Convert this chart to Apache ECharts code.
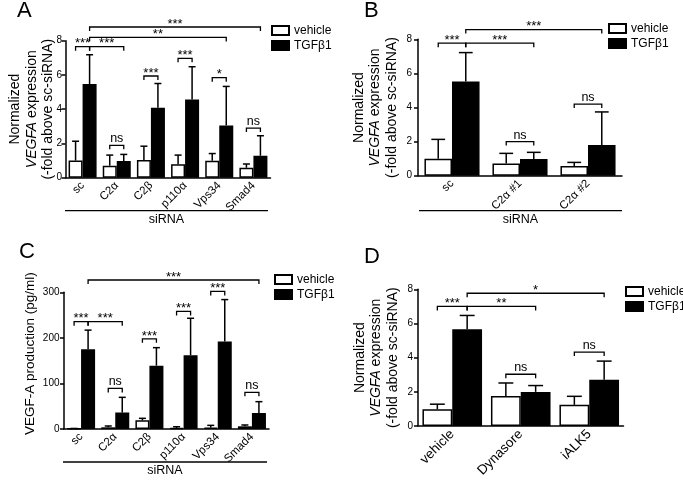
<!DOCTYPE html>
<html><head><meta charset="utf-8">
<script src="https://cdn.jsdelivr.net/npm/echarts@6/dist/echarts.min.js"></script>
<style>html,body{margin:0;padding:0;background:#fff}#c{width:683px;height:480px}</style>
</head><body><div id="c"></div>
<script>
const FONT = '"Liberation Sans", Arial, Helvetica, sans-serif';

const catsA = ['sc','C2α','C2β','p110α','Vps34','Smad4'];
const vehA = [1.00,0.70,1.03,0.78,0.99,0.58];
const vehErrA = [2.13,1.32,1.84,1.32,1.41,0.80];
const tgfA = [5.47,0.97,4.09,4.57,3.05,1.28];
const tgfErrA = [7.18,1.36,5.50,6.48,5.33,2.45];
const sigA = [[0,0,0,1,7.65,'***'],[0,1,1,1,7.65,'***'],[0,1,4,1,8.19,'**'],[0,1,5,1,8.8,'***'],[1,0,1,1,1.89,'ns'],[2,0,2,1,5.94,'***'],[3,0,3,1,6.97,'***'],[4,0,4,1,5.84,'*'],[5,0,5,1,2.9,'ns']];

const catsB = ['sc','C2α #1','C2α #2'];
const vehB = [1.00,0.72,0.57];
const vehErrB = [2.13,1.31,0.78];
const tgfB = [5.52,0.98,1.80];
const tgfErrB = [7.22,1.37,3.74];
const sigB = [[0,0,0,1,7.77,'***'],[0,1,1,1,7.77,'***'],[0,1,2,1,8.57,'***'],[1,0,1,1,2.0,'ns'],[2,0,2,1,4.2,'ns']];

const catsC = ['sc','C2α','C2β','p110α','Vps34','Smad4'];
const vehC = [0.8,3.7,19,2.2,3,5.9];
const vehErrC = [1.2,6.6,23.4,5,8,8.8];
const tgfC = [175,36,139,162,192,35];
const tgfErrC = [217,69.5,178.5,243,284,60];
const sigC = [[0,0,0,1,235.5,'***'],[0,1,1,1,235.5,'***'],[0,1,5,1,327,'***'],[1,0,1,1,89,'ns'],[2,0,2,1,198,'***'],[3,0,3,1,258,'***'],[4,0,4,1,302,'***'],[5,0,5,1,80.5,'ns']];

const catsD = ['vehicle','Dynasore','iALK5'];
const vehD = [0.99,1.76,1.24];
const vehErrD = [1.28,2.52,1.74];
const tgfD = [5.67,2.00,2.71];
const tgfErrD = [6.47,2.37,3.80];
const sigD = [[0,0,0,1,7.0,'***'],[0,1,1,1,7.0,'**'],[0,1,2,1,7.77,'*'],[1,0,1,1,3.03,'ns'],[2,0,2,1,4.33,'ns']];

const yTitleNorm = 'Normalized\n{i|VEGFA} expression\n(-fold above sc-siRNA)';
const yTitleC = 'VEGF-A production (pg/ml)';

const panels = [
  {cats:catsA, veh:vehA, vehE:vehErrA, tgf:tgfA, tgfE:tgfErrA, sig:sigA, max:8, interval:2, gap:0.18,
   grid:{left:65.5, top:40.7, width:205, height:137}, name:yTitleNorm, nameGap:9, nameSize:14, namePad:0, xFont:11.5, yMargin:3.5,
   legend:{left:271, top:24.5}},
  {cats:catsB, veh:vehB, vehE:vehErrB, tgf:tgfB, tgfE:tgfErrB, sig:sigB, max:8, interval:2, gap:0.19,
   grid:{left:418, top:39.3, width:204, height:136.4}, name:yTitleNorm, nameGap:18, nameSize:14, namePad:0, xFont:11.5, yMargin:6,
   legend:{left:608, top:22.5}},
  {cats:catsC, veh:vehC, vehE:vehErrC, tgf:tgfC, tgfE:tgfErrC, sig:sigC, max:300, interval:100, gap:0.18,
   grid:{left:64, top:292.3, width:205, height:136.7}, name:yTitleC, nameGap:25, nameSize:13.5, namePad:14, xFont:11.5, yMargin:4.5,
   legend:{left:274, top:273.5}},
  {cats:catsD, veh:vehD, vehE:vehErrD, tgf:tgfD, tgfE:tgfErrD, sig:sigD, max:8, interval:2, gap:0.13,
   grid:{left:418, top:289.3, width:205.5, height:139.7}, name:yTitleNorm, nameGap:17, nameSize:14, namePad:0, xFont:13.5, yMargin:5,
   legend:{left:625, top:285.5}}
];

function errSeries(pi, side, vals, errs, gap){
  return {type:'custom', name: side<0?'vehicle':'TGFβ1', xAxisIndex:pi, yAxisIndex:pi, z:3, silent:true, clip:false,
    data: vals.map((v,i)=>[i,v,errs[i]]),
    renderItem:(params, api)=>{
      const band = api.size([1,0])[0];
      const bw = band*(1-gap)/2;
      const p0 = api.coord([api.value(0), api.value(1)]);
      const p1 = api.coord([api.value(0), api.value(2)]);
      const x = p0[0] + side*bw/2;
      const st = {stroke:'#000', lineWidth:1.5, fill:null};
      return {type:'group', children:[
        {type:'line', shape:{x1:x,y1:p0[1],x2:x,y2:p1[1]}, style:st},
        {type:'line', shape:{x1:x-bw/4,y1:p1[1],x2:x+bw/4,y2:p1[1]}, style:st}
      ]};
    }
  };
}

function sigSeries(pi, sig, gap){
  return {type:'custom', xAxisIndex:pi, yAxisIndex:pi, z:4, silent:true, clip:false,
    data: sig.map(s=>[s[0], s[4]]),
    renderItem:(params, api)=>{
      const s = sig[params.dataIndex];
      const band = api.size([1,0])[0];
      const bw = band*(1-gap)/2;
      const pa = api.coord([s[0], s[4]]);
      const pb = api.coord([s[2], s[4]]);
      const xa = pa[0] + (s[1]?1:-1)*bw/2;
      const xb = pb[0] + (s[3]?1:-1)*bw/2;
      const y = pa[1];
      const isNs = s[5]==='ns';
      return {type:'group', children:[
        {type:'polyline', shape:{points:[[xa,y+4],[xa,y],[xb,y],[xb,y+4]]}, style:{stroke:'#000', lineWidth:1.3, fill:null}},
        {type:'text', x:(xa+xb)/2, y: y - (isNs?6.5:2.8),
          style:{text:s[5], align:'center', verticalAlign:'middle', fill:'#000',
            font:(isNs?'12.5px ':'13px ')+FONT}}
      ]};
    }
  };
}

const option = {
  animation:false,
  backgroundColor:'#fff',
  textStyle:{fontFamily:FONT},
  grid:[], xAxis:[], yAxis:[], series:[], legend:[],
  graphic:[]
};

panels.forEach((p, pi)=>{
  option.grid.push(Object.assign({containLabel:false}, p.grid));
  option.xAxis.push({type:'category', gridIndex:pi, data:p.cats,
    axisLine:{lineStyle:{color:'#000', width:1.5}}, axisTick:{show:false},
    axisLabel:{rotate:45, interval:0, color:'#000', fontSize:p.xFont, fontFamily:FONT, margin:6},
    splitLine:{show:false}});
  option.yAxis.push({type:'value', gridIndex:pi, min:0, max:p.max, interval:p.interval,
    axisLine:{show:true, lineStyle:{color:'#000', width:1.5}},
    axisTick:{show:true, length:4, lineStyle:{color:'#000', width:1.5}},
    axisLabel:{color:'#000', fontSize:10, fontFamily:FONT, margin:p.yMargin, hideOverlap:false},
    splitLine:{show:false},
    name:p.name, nameLocation:'middle', nameGap:p.nameGap, nameMoveOverlap:false,
    nameTextStyle:{color:'#000', fontSize:p.nameSize, fontFamily:FONT, lineHeight:16.5, padding:[0,0,0,p.namePad],
      rich:{i:{fontStyle:'italic', fontSize:p.nameSize, fontFamily:FONT, color:'#000', lineHeight:16.5}}}});
  option.series.push({type:'bar', name:'vehicle', xAxisIndex:pi, yAxisIndex:pi, data:p.veh,
    barGap:'0%', barCategoryGap:(p.gap*100)+'%',
    itemStyle:{color:'#fff', borderColor:'#000', borderWidth:1.5}});
  option.series.push({type:'bar', name:'TGFβ1', xAxisIndex:pi, yAxisIndex:pi, data:p.tgf,
    barGap:'0%', barCategoryGap:(p.gap*100)+'%',
    itemStyle:{color:'#000', borderColor:'#000', borderWidth:1.5}});
  option.series.push(errSeries(pi, -1, p.veh, p.vehE, p.gap));
  option.series.push(errSeries(pi, 1, p.tgf, p.tgfE, p.gap));
  option.series.push(sigSeries(pi, p.sig, p.gap));
  option.legend.push({orient:'vertical', left:p.legend.left, top:p.legend.top, padding:0, icon:'rect',
    itemWidth:17, itemHeight:9, itemGap:3, selectedMode:false, data:['vehicle','TGFβ1'],
    textStyle:{color:'#000', fontSize:12, fontFamily:FONT}});
});

// panel letters
[['A',17,0],['B',364,0],['C',19,241],['D',364,246]].forEach(l=>{
  option.graphic.push({type:'text', left:l[1], top:l[2], style:{text:l[0], font:'22px '+FONT, fill:'#000'}});
});
// siRNA group lines
[[65,268,210.7,220],[419,622,210.7,220],[63,267,462,471]].forEach(s=>{
  option.graphic.push({type:'line', shape:{x1:s[0],y1:s[2],x2:s[1],y2:s[2]}, style:{stroke:'#000', lineWidth:1.3}});
  option.graphic.push({type:'text', x:(s[0]+s[1])/2, y:s[3], style:{text:'siRNA', align:'center', verticalAlign:'middle', font:'12.5px '+FONT, fill:'#000'}});
});

const chart = echarts.init(document.getElementById('c'), null, {renderer:'canvas'});
chart.setOption(option);
</script></body></html>
